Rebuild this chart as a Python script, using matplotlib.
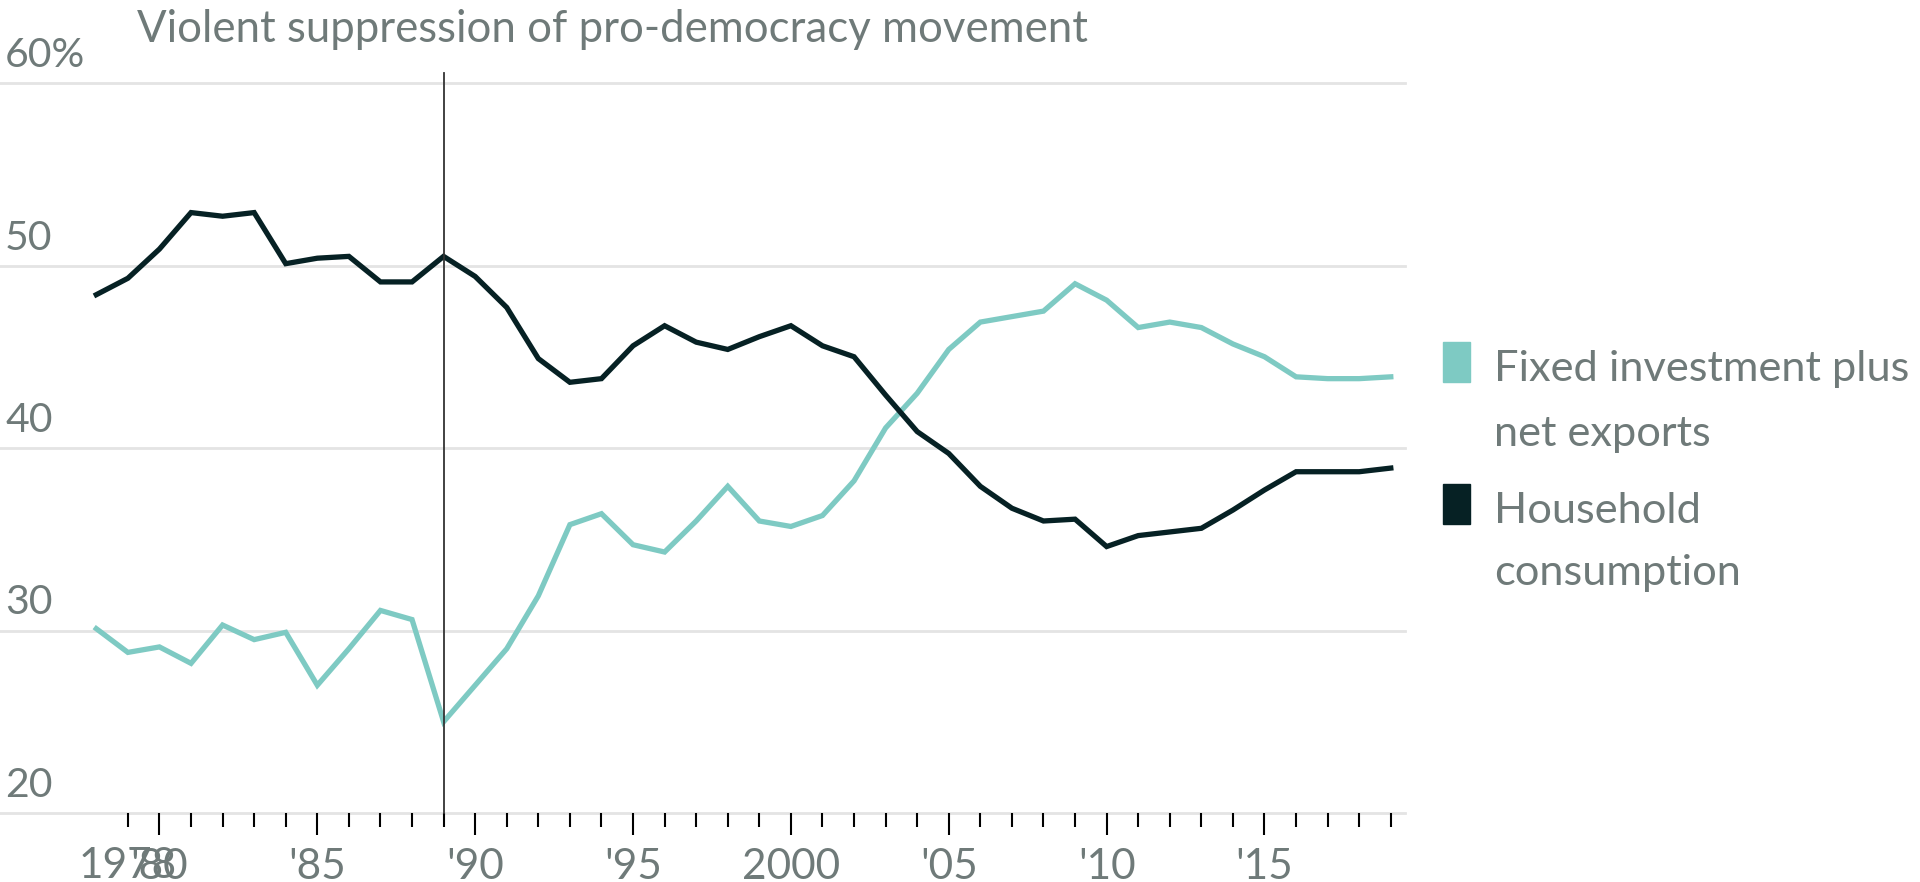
import matplotlib.pyplot as plt
from matplotlib.patches import Rectangle
from matplotlib import transforms

# Share of GDP, %
years = list(range(1978, 2020))
household = [48.4, 49.3, 50.9, 52.9, 52.7, 52.9, 50.1, 50.4, 50.5, 49.1,
             49.1, 50.5, 49.4, 47.7, 44.9, 43.6, 43.8, 45.6, 46.7, 45.8,
             45.4, 46.1, 46.7, 45.6, 45.0, 42.9, 40.9, 39.7, 37.9, 36.7,
             36.0, 36.1, 34.6, 35.2, 35.4, 35.6, 36.6, 37.7, 38.7, 38.7,
             38.7, 38.9]
investment = [30.1, 28.8, 29.1, 28.2, 30.3, 29.5, 29.9, 27.0, 29.0, 31.1,
              30.6, 25.0, 27.0, 29.0, 31.9, 35.8, 36.4, 34.7, 34.3, 36.0,
              37.9, 36.0, 35.7, 36.3, 38.2, 41.1, 43.0, 45.4, 46.9, 47.2,
              47.5, 49.0, 48.1, 46.6, 46.9, 46.6, 45.7, 45.0, 43.9, 43.8,
              43.8, 43.9]

y_ticks = [20, 30, 40, 50, 60]
y_labels = ["20", "30", "40", "50", "60%"]
x_major = [1980, 1985, 1990, 1995, 2000, 2005, 2010, 2015]
x_labels = ["'80", "'85", "'90", "'95", "2000", "'05", "'10", "'15"]
event_year = 1989

TEAL = "#7ecac3"
DARK = "#062124"
GREY_TXT = "#6f7a79"
GRID = "#e4e4e4"

plt.rcParams["font.family"] = ["Lato", "DejaVu Sans"]

fig = plt.figure(figsize=(19.2, 8.82), dpi=100)
ax = fig.add_axes([0, 1 - 813 / 882, 1405 / 1920, 730 / 882])
ax.set_xlim(1974.95, 2019.45)
ax.set_ylim(20, 60)

for v in y_ticks:
    ax.axhline(v, color=GRID, lw=2, zorder=0, clip_on=False)

ax.plot(years, investment, color=TEAL, lw=3.8, solid_joinstyle="miter", zorder=3)
ax.plot(years, household, color=DARK, lw=3.8, solid_joinstyle="miter", zorder=3)

ax.axvline(event_year, ymin=0, ymax=1.014, color="#333333", lw=1.3,
           clip_on=False, zorder=4)

# y labels sit just above their gridlines
for v, lbl in zip(y_ticks, y_labels):
    ax.annotate(lbl, xy=(0, v), xycoords=("axes fraction", "data"),
                xytext=(5, 9), textcoords="offset pixels",
                ha="left", va="bottom", fontsize=29.5, color=GREY_TXT)

for s in ax.spines.values():
    s.set_visible(False)
ax.set_yticks([])

ax.set_xticks(x_major)
ax.set_xticklabels(x_labels)
ax.set_xticks(range(1979, 2020), minor=True)
ax.tick_params(axis="x", which="major", length=16, width=1.5, color="black",
               pad=9, labelsize=30.5, labelcolor=GREY_TXT)
ax.tick_params(axis="x", which="minor", length=10, width=1.5, color="black")

# first label sits on the 1979 tick
trans = transforms.blended_transform_factory(ax.transData, ax.transAxes)
ax.text(1979, -0.072, "1978", transform=trans, ha="center", va="center",
        fontsize=30.5, color=GREY_TXT)

fig.text(137 / 1920, 1 - 29 / 882, "Violent suppression of pro-democracy movement",
         ha="left", va="center", fontsize=31.5, color=GREY_TXT)

# legend
fig.add_artist(Rectangle((1443 / 1920, 1 - 382 / 882), 27 / 1920, 40 / 882,
                         transform=fig.transFigure, color=TEAL))
fig.add_artist(Rectangle((1443 / 1920, 1 - 524 / 882), 27 / 1920, 40 / 882,
                         transform=fig.transFigure, color=DARK))
for y_px, txt in [(381, "Fixed investment plus"), (446, "net exports"),
                  (523, "Household"), (585, "consumption")]:
    fig.text(1494 / 1920, 1 - y_px / 882, txt, ha="left", va="baseline",
             fontsize=31.2, color=GREY_TXT)

fig.savefig("out.png", dpi=100)
